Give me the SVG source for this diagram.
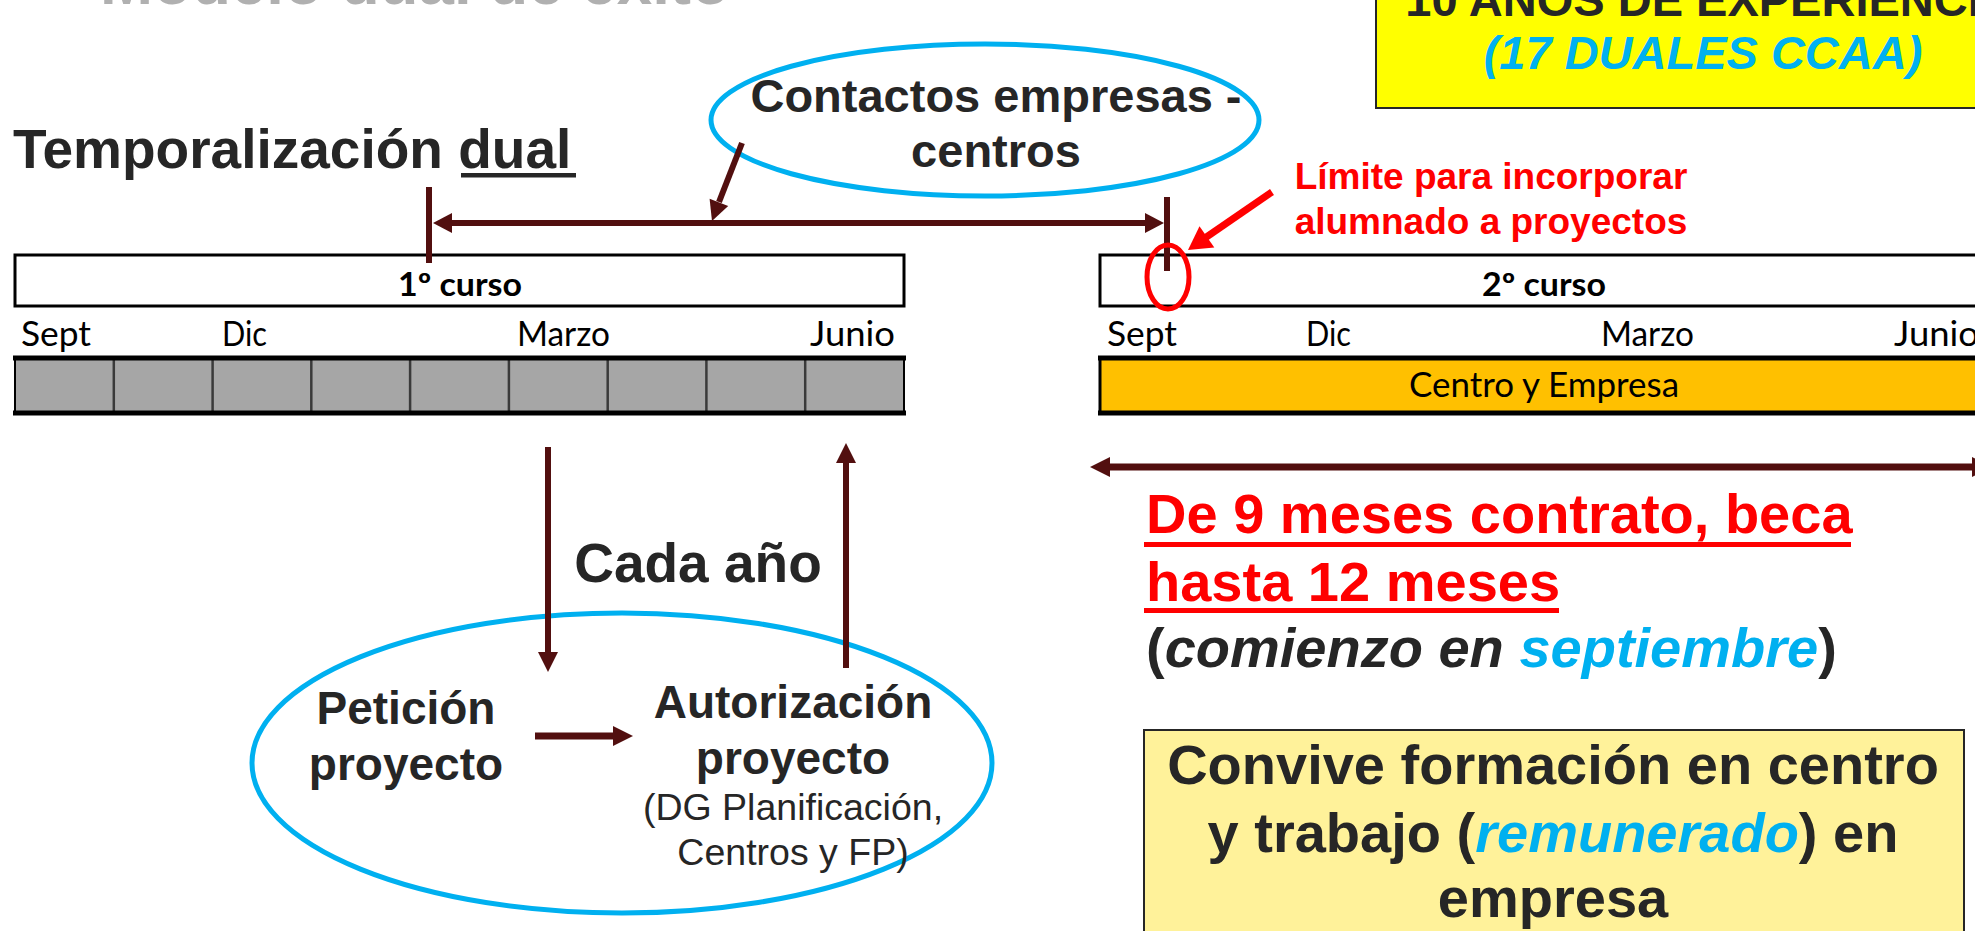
<svg xmlns="http://www.w3.org/2000/svg" width="1975" height="931" viewBox="0 0 1975 931">
<style>
.a{font-family:"Liberation Sans",Arial,sans-serif;font-weight:bold;fill:#262626}
.r{font-family:"Liberation Sans",Arial,sans-serif;font-weight:normal;fill:#262626}
.c{font-family:Lato,"Open Sans",sans-serif;fill:#000}
.cb{font-family:Lato,"Open Sans",sans-serif;font-weight:bold;fill:#000}
.red{fill:#FF0000}
.blue{fill:#00B0F0}
.conn{stroke:#520F0F;fill:none}
.head{fill:#520F0F;stroke:none}
.ell{fill:#fff;stroke:#00B0F0;stroke-width:5}
</style>
<rect width="1975" height="931" fill="#fff"/>

<g id="title-faint">
<text x="100" y="4" class="a" font-size="64" style="fill:#b0b0b0" textLength="630" lengthAdjust="spacingAndGlyphs">Modelo dual de éxito</text>
</g>

<g id="experiencia">
<rect x="1376" y="-10" width="620" height="118" fill="#FFFF00" stroke="#262626" stroke-width="2"/>
<text x="1710" y="16" class="a" font-size="47" text-anchor="middle">10 AÑOS DE EXPERIENCIA</text>
<text x="1703" y="69" class="a blue" font-size="47" font-style="italic" text-anchor="middle">(17 DUALES CCAA)</text>
</g>

<g id="titulo">
<text x="13" y="168" class="a" font-size="55">Temporalización dual</text>
<rect x="461" y="173" width="115" height="4.5" fill="#262626"/>
</g>

<g id="contactos">
<ellipse cx="985" cy="120" rx="274" ry="76" class="ell"/>
<text x="996" y="112" class="a" font-size="47" text-anchor="middle">Contactos empresas -</text>
<text x="996" y="167" class="a" font-size="47" text-anchor="middle">centros</text>
</g>

<g id="limite">
<text x="1491" y="189" class="a red" font-size="37" text-anchor="middle">Límite para incorporar</text>
<text x="1491" y="234" class="a red" font-size="37" text-anchor="middle">alumnado a proyectos</text>
</g>

<g id="curso1">
<rect x="15" y="255" width="889" height="51" fill="#fff" stroke="#000" stroke-width="3"/>
<text x="460" y="296" class="cb" font-size="32" text-anchor="middle" textLength="124" lengthAdjust="spacingAndGlyphs">1º curso</text>
<text x="21" y="346" class="c" font-size="34" textLength="70" lengthAdjust="spacingAndGlyphs">Sept</text>
<text x="222" y="346" class="c" font-size="34" textLength="45" lengthAdjust="spacingAndGlyphs">Dic</text>
<text x="517" y="346" class="c" font-size="34" textLength="93" lengthAdjust="spacingAndGlyphs">Marzo</text>
<text x="810" y="346" class="c" font-size="34" textLength="85" lengthAdjust="spacingAndGlyphs">Junio</text>
<rect x="15" y="358" width="889" height="55" fill="#A6A6A6" stroke="#000" stroke-width="2"/>
<g stroke="#3a3a3a" stroke-width="2.5">
<line x1="113.8" y1="358" x2="113.8" y2="413"/>
<line x1="212.6" y1="358" x2="212.6" y2="413"/>
<line x1="311.3" y1="358" x2="311.3" y2="413"/>
<line x1="410.1" y1="358" x2="410.1" y2="413"/>
<line x1="508.9" y1="358" x2="508.9" y2="413"/>
<line x1="607.7" y1="358" x2="607.7" y2="413"/>
<line x1="706.4" y1="358" x2="706.4" y2="413"/>
<line x1="805.2" y1="358" x2="805.2" y2="413"/>
</g>
<g stroke="#000" stroke-width="5">
<line x1="13" y1="358" x2="906" y2="358"/>
<line x1="13" y1="413" x2="906" y2="413"/>
</g>
</g>

<g id="curso2">
<rect x="1100" y="255" width="900" height="51" fill="#fff" stroke="#000" stroke-width="3"/>
<text x="1544" y="296" class="cb" font-size="32" text-anchor="middle" textLength="124" lengthAdjust="spacingAndGlyphs">2º curso</text>
<text x="1107" y="346" class="c" font-size="34" textLength="70" lengthAdjust="spacingAndGlyphs">Sept</text>
<text x="1306" y="346" class="c" font-size="34" textLength="45" lengthAdjust="spacingAndGlyphs">Dic</text>
<text x="1601" y="346" class="c" font-size="34" textLength="93" lengthAdjust="spacingAndGlyphs">Marzo</text>
<text x="1894" y="346" class="c" font-size="34" textLength="85" lengthAdjust="spacingAndGlyphs">Junio</text>
<rect x="1100" y="358" width="900" height="55" fill="#FFC000" stroke="#000" stroke-width="3"/>
<g stroke="#000" stroke-width="5">
<line x1="1098" y1="358" x2="1980" y2="358"/>
<line x1="1098" y1="413" x2="1980" y2="413"/>
</g>
<text x="1544" y="397" class="c" font-size="34" text-anchor="middle" textLength="270" lengthAdjust="spacingAndGlyphs">Centro y Empresa</text>
</g>

<g id="ciclo">
<ellipse cx="622" cy="763" rx="370" ry="150" class="ell"/>
<text x="406" y="724" class="a" font-size="46" text-anchor="middle">Petición</text>
<text x="406" y="780" class="a" font-size="46" text-anchor="middle">proyecto</text>
<text x="793" y="718" class="a" font-size="46" text-anchor="middle">Autorización</text>
<text x="793" y="774" class="a" font-size="46" text-anchor="middle">proyecto</text>
<text x="793" y="820" class="r" font-size="37.5" text-anchor="middle">(DG Planificación,</text>
<text x="793" y="865" class="r" font-size="37.5" text-anchor="middle">Centros y FP)</text>
</g>

<g id="cada-ano">
<text x="698" y="582" class="a" font-size="55" text-anchor="middle">Cada año</text>
</g>

<g id="duracion">
<text x="1146" y="533" class="a red" font-size="56">De 9 meses contrato, beca</text>
<rect x="1144" y="542" width="707" height="5" fill="#FF0000"/>
<text x="1146" y="601" class="a red" font-size="56">hasta 12 meses</text>
<rect x="1144" y="608" width="415" height="5" fill="#FF0000"/>
<text x="1146" y="667" class="a" font-size="56">(<tspan font-style="italic">comienzo en </tspan><tspan font-style="italic" class="blue">septiembre</tspan>)</text>
</g>

<g id="convive">
<rect x="1144" y="730" width="820" height="220" fill="#FFF29A" stroke="#262626" stroke-width="2"/>
<text x="1553" y="784" class="a" font-size="56" text-anchor="middle">Convive formación en centro</text>
<text x="1553" y="852" class="a" font-size="56" text-anchor="middle">y trabajo (<tspan font-style="italic" class="blue">remunerado</tspan>) en</text>
<text x="1553" y="917" class="a" font-size="56" text-anchor="middle">empresa</text>
</g>

<g id="connectors">
<line x1="429" y1="187" x2="429" y2="263" class="conn" stroke-width="6"/>
<line x1="1167" y1="197" x2="1167" y2="271" class="conn" stroke-width="6"/>
<line x1="450" y1="223" x2="1146" y2="223" class="conn" stroke-width="6"/>
<polygon points="433,223 452,213 452,233" class="head"/>
<polygon points="1164,223 1145,213 1145,233" class="head"/>
<line x1="742" y1="143" x2="719" y2="202" class="conn" stroke-width="6"/>
<polygon points="712,221 728.2,205.9 709.6,198.7" class="head"/>
<line x1="1272" y1="192" x2="1205" y2="238" stroke="#FF0000" stroke-width="7"/>
<polygon points="1188,250 1214.3,247.6 1199.5,226.2" fill="#FF0000"/>
<ellipse cx="1168" cy="277" rx="21" ry="32" fill="none" stroke="#FF0000" stroke-width="5"/>
<line x1="548" y1="447" x2="548" y2="654" class="conn" stroke-width="6"/>
<polygon points="548,672 538,652 558,652" class="head"/>
<line x1="846" y1="668" x2="846" y2="461" class="conn" stroke-width="6"/>
<polygon points="846,443 836,463 856,463" class="head"/>
<line x1="535" y1="736" x2="615" y2="736" class="conn" stroke-width="7"/>
<polygon points="633,736 613,726 613,746" class="head"/>
<line x1="1108" y1="467" x2="1975" y2="467" class="conn" stroke-width="7"/>
<polygon points="1090,467 1110,457 1110,477" class="head"/>
<polygon points="1992,467 1972,457 1972,477" class="head"/>
</g>
</svg>
